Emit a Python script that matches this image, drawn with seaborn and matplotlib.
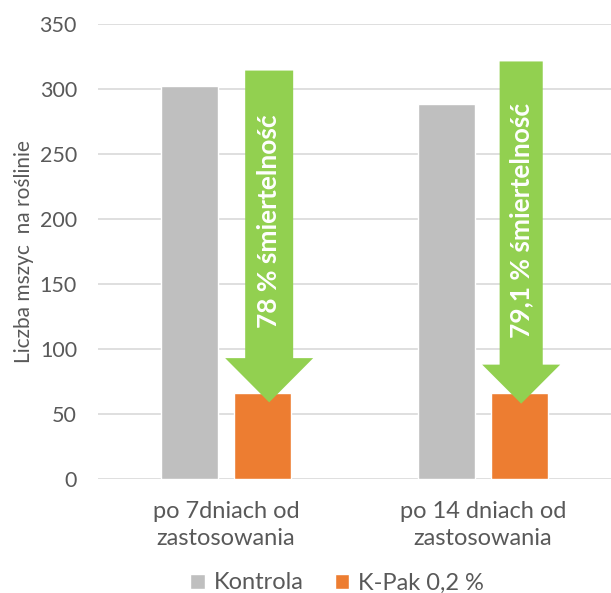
import matplotlib
matplotlib.use("Agg")
import matplotlib.pyplot as plt
import seaborn as sns
import pandas as pd
from matplotlib.patches import FancyArrow

categories = ["po 7dniach od\nzastosowania", "po 14 dniach od\nzastosowania"]
groups = ["Kontrola", "K-Pak 0,2 %"]
kontrola = [302, 288]
kpak = [66, 66]
mortality_labels = ["78 % śmiertelność", "79,1 % śmiertelność"]
yticks = [0, 50, 100, 150, 200, 250, 300, 350]

# arrow annotation geometry (data units)
arrow_top = [314, 321]
arrow_tip = [59, 58]
arrow_dx = [0.168, 0.150]
arrow_shaft = [0.187, 0.168]
arrow_head = [0.343, 0.304]
arrow_head_len = [34, 30]
text_y = [198, 199]

df = pd.DataFrame({
    "kategoria": categories * 2,
    "grupa": [groups[0]] * 2 + [groups[1]] * 2,
    "wartosc": kontrola + kpak,
})

sns.set_style("white")
plt.rcParams["font.family"] = ["Lato", "DejaVu Sans"]
text_color = "#595959"

fig = plt.figure(figsize=(6.11, 5.93), dpi=100)
ax = fig.add_axes([0.160, 0.192, 0.840, 0.768])

sns.barplot(data=df, x="kategoria", y="wartosc", hue="grupa",
            palette=["#BFBFBF", "#ED7D31"], width=0.568, gap=0.22,
            saturation=1, ax=ax, legend=True)

ax.set_ylim(0, 350)
ax.set_xlim(-0.5, 1.5)
ax.set_yticks(yticks)
ax.yaxis.grid(True, color="#D9D9D9", linewidth=1.2)
ax.set_axisbelow(True)
for s in ax.spines.values():
    s.set_visible(False)
ax.tick_params(axis="y", length=0, labelsize=15.5, colors=text_color, pad=15)
ax.tick_params(axis="x", length=0, labelsize=17, colors=text_color, pad=16)
for lbl in ax.get_xticklabels():
    lbl.set_linespacing(1.35)
ax.set_xlabel("")
ax.set_ylabel("Liczba mszyc  na roślinie", fontsize=15, color=text_color)
ax.yaxis.set_label_coords(-0.125, 0.5)

for i in range(len(categories)):
    x = i + arrow_dx[i]
    length = arrow_tip[i] - arrow_top[i]
    arr = FancyArrow(x, arrow_top[i], 0, length, width=arrow_shaft[i],
                     head_width=arrow_head[i], head_length=arrow_head_len[i],
                     length_includes_head=True, color="#92D050", lw=0, zorder=5)
    ax.add_patch(arr)
    ax.text(x, text_y[i], mortality_labels[i], rotation=90, color="white",
            fontsize=19, fontweight="bold", ha="center", va="center", zorder=6)

handles, labels = ax.get_legend_handles_labels()
ax.legend_.remove()
fig.legend(handles, labels, loc="center", bbox_to_anchor=(0.552, 0.017),
           ncol=2, frameon=False, fontsize=17, labelcolor=text_color,
           handlelength=0.6, handleheight=0.6, handletextpad=0.4,
           columnspacing=1.3)

plt.savefig("out.png", dpi=100)
plt.close()
